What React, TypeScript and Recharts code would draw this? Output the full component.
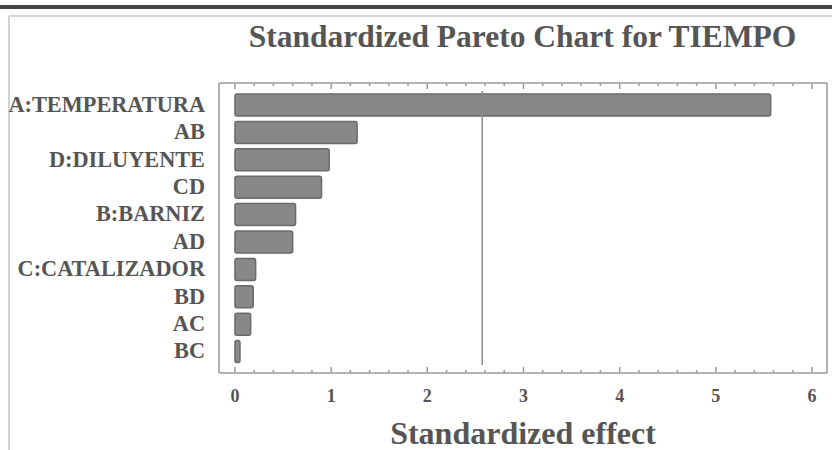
import React from 'react';
import { BarChart, Bar, XAxis, YAxis, ReferenceLine, Label } from 'recharts';

const effects = ['A:TEMPERATURA', 'AB', 'D:DILUYENTE', 'CD', 'B:BARNIZ', 'AD', 'C:CATALIZADOR', 'BD', 'AC', 'BC'];
const standardizedEffect = [5.57, 1.27, 0.98, 0.9, 0.63, 0.6, 0.215, 0.19, 0.163, 0.052];
const majorTicks = [0, 1, 2, 3, 4, 5, 6];
const allTicks = [0, 0.2, 0.4, 0.6, 0.8, 1, 1.2, 1.4, 1.6, 1.8, 2, 2.2, 2.4, 2.6, 2.8, 3, 3.2, 3.4, 3.6, 3.8, 4, 4.2, 4.4, 4.6, 4.8, 5, 5.2, 5.4, 5.6, 5.8, 6];
const criticalValue = 2.571;
const xDomain = [-0.166, 6.156];

const data = effects.map((name, i) => ({ name, value: standardizedEffect[i] }));

const FONT = '"Liberation Serif", "Times New Roman", serif';
const TEXT = '#555555';
const AXIS = '#9a9a9a';
const axisLineStyle = { stroke: AXIS, strokeWidth: 1.5 };

const isMajor = (v: number) => majorTicks.some((m) => Math.abs(m - v) < 1e-6);

const BottomTick = (props: any) => {
  const { x, y, payload } = props;
  const v = payload.value;
  const major = isMajor(v);
  return (
    <g>
      <line x1={x} x2={x} y1={y} y2={y - (major ? 6 : 3)} stroke={AXIS} strokeWidth={1.5} />
      {major && (
        <text x={x} y={y + 28.5} textAnchor="middle" fill={TEXT} fontFamily={FONT} fontWeight="bold" fontSize={18}>
          {Math.round(v)}
        </text>
      )}
    </g>
  );
};

const TopTick = (props: any) => {
  const { x, y, payload } = props;
  const major = isMajor(payload.value);
  return <line x1={x} x2={x} y1={y} y2={y + (major ? 6 : 3)} stroke={AXIS} strokeWidth={1.5} />;
};

const LeftTick = (props: any) => {
  const { x, y, payload } = props;
  return (
    <text x={x} y={y + 7} textAnchor="end" fill={TEXT} fontFamily={FONT} fontWeight="bold" fontSize={22.3}>
      {payload.value}
    </text>
  );
};

const RefShape = (props: any) => {
  const { x1, y1, x2, y2 } = props;
  const top = Math.min(y1, y2);
  const bottom = Math.max(y1, y2);
  return <line x1={x1} x2={x2} y1={top + 8} y2={bottom - 8} stroke="#8a8a8a" strokeWidth={1.5} />;
};

export default function App() {
  return (
    <div style={{ position: 'absolute', left: 0, top: 0, width: 832, height: 450, background: '#fff', overflow: 'hidden' }}>
      <svg width={832} height={450} style={{ position: 'absolute', left: 0, top: 0 }}>
        <rect x={0} y={5} width={832} height={4} fill="#454545" />
        <line x1={9} x2={9} y1={16} y2={450} stroke="#d2d2d2" strokeWidth={2} />
        <line x1={9} x2={832} y1={16} y2={16} stroke="#d2d2d2" strokeWidth={2} />
        <text x={522.5} y={46.5} textAnchor="middle" fill={TEXT} fontFamily={FONT} fontWeight="bold" fontSize={31.5}>
          Standardized Pareto Chart for TIEMPO
        </text>
      </svg>
      <div style={{ position: 'absolute', left: 0, top: 0 }}>
        <BarChart
          width={832}
          height={450}
          data={data}
          layout="vertical"
          margin={{ top: 82, right: 0, bottom: 0, left: 0 }}
        >
          <XAxis
            type="number"
            dataKey="value"
            domain={xDomain}
            allowDataOverflow
            ticks={allTicks}
            interval={0}
            tickSize={0}
            tickMargin={0}
            tickLine={false}
            axisLine={axisLineStyle}
            height={77}
            tick={<BottomTick />}
          >
            <Label
              value="Standardized effect"
              position="insideBottom"
              offset={6}
              fill={TEXT}
              fontFamily={FONT}
              fontWeight="bold"
              fontSize={32}
            />
          </XAxis>
          <XAxis
            xAxisId="top"
            orientation="top"
            type="number"
            domain={xDomain}
            allowDataOverflow
            ticks={allTicks}
            interval={0}
            tickSize={0}
            tickMargin={0}
            tickLine={false}
            axisLine={axisLineStyle}
            height={1}
            tick={<TopTick />}
          />
          <YAxis
            type="category"
            dataKey="name"
            width={219}
            axisLine={axisLineStyle}
            tickLine={false}
            tickSize={0}
            tickMargin={14}
            interval={0}
            padding={{ top: 8, bottom: 8 }}
            tick={<LeftTick />}
          />
          <YAxis
            yAxisId="right"
            orientation="right"
            type="category"
            dataKey="name"
            width={5}
            axisLine={axisLineStyle}
            tickLine={false}
            tick={false}
            padding={{ top: 8, bottom: 8 }}
          />
          <Bar
            dataKey="value"
            barSize={22}
            fill="#888888"
            stroke="#6a6a6a"
            strokeWidth={1.5}
            radius={2}
            isAnimationActive={false}
          />
          <ReferenceLine x={criticalValue} shape={<RefShape />} ifOverflow="visible" />
        </BarChart>
      </div>
    </div>
  );
}
